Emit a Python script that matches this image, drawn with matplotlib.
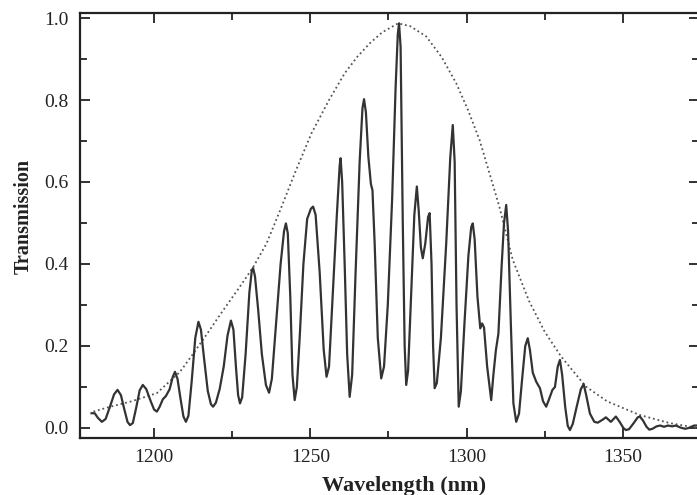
import matplotlib
matplotlib.use("Agg")
import matplotlib.pyplot as plt
from matplotlib.ticker import MultipleLocator

wavelength = [
    1180.0, 1181.0, 1182.0, 1183.3, 1184.5, 1185.8, 1187.2, 1188.3, 1189.4, 1190.5,
    1191.5, 1192.3, 1193.2, 1194.3, 1195.4, 1196.4, 1197.5, 1198.8, 1200.0, 1200.9,
    1201.8, 1202.8, 1203.8, 1205.0, 1206.0, 1206.7, 1207.5, 1208.5, 1209.4, 1210.2,
    1211.0, 1212.0, 1213.2, 1214.2, 1215.0, 1216.0, 1217.2, 1218.2, 1218.9, 1219.8,
    1221.0, 1222.3, 1223.5, 1224.6, 1225.4, 1226.2, 1226.9, 1227.5, 1228.2, 1229.3,
    1230.5, 1231.3, 1231.7, 1232.3, 1233.3, 1234.5, 1235.8, 1236.8, 1237.7, 1238.8,
    1240.5, 1241.6, 1242.2, 1242.8, 1243.6, 1244.3, 1245.0, 1245.7, 1246.6, 1247.8,
    1249.0, 1250.2, 1250.9, 1251.7, 1253.0, 1254.3, 1255.2, 1256.0, 1257.0, 1258.5,
    1259.4, 1259.7, 1260.2, 1261.0, 1261.8, 1262.6, 1263.4, 1264.5, 1265.8, 1266.7,
    1267.2, 1267.8, 1268.6, 1269.4, 1269.9, 1270.6, 1271.6, 1272.7, 1273.6, 1274.8,
    1276.2, 1277.3, 1278.0, 1278.4, 1278.9, 1279.6, 1280.2, 1280.7, 1281.3, 1282.3,
    1283.3, 1284.1, 1284.7, 1285.4, 1286.0, 1286.8, 1287.7, 1288.2, 1288.8, 1289.3,
    1289.8, 1290.5, 1291.8, 1293.5, 1294.8, 1295.6, 1296.2, 1296.8, 1297.5, 1298.2,
    1299.3, 1300.6, 1301.5, 1302.0, 1302.6, 1303.5, 1304.4, 1305.0, 1305.6, 1306.6,
    1307.9, 1308.6, 1309.4, 1310.2, 1311.2, 1312.0, 1312.7, 1313.3, 1314.2, 1315.0,
    1315.9, 1316.8, 1317.8, 1318.8, 1319.6, 1320.3, 1321.2, 1322.3, 1323.5, 1324.5,
    1325.5, 1326.4, 1327.5, 1328.3, 1329.2, 1329.9, 1330.6, 1331.6, 1332.4, 1333.1,
    1334.0, 1335.2, 1336.6, 1337.5, 1338.3, 1339.5, 1340.9, 1342.0, 1343.5, 1344.6,
    1346.2, 1347.8, 1349.0, 1350.2, 1351.0, 1352.0, 1353.5, 1354.8, 1355.5, 1356.5,
    1357.6, 1358.5, 1359.5, 1360.8, 1362.0, 1363.2, 1364.5, 1365.8, 1367.0, 1368.5,
    1370.0, 1371.5, 1372.8, 1374.0,
]
transmission = [
    0.036, 0.036, 0.025, 0.015, 0.022, 0.050, 0.082, 0.093, 0.080, 0.045,
    0.015, 0.007, 0.012, 0.050, 0.092, 0.105, 0.095, 0.068, 0.045, 0.040,
    0.052, 0.070, 0.078, 0.095, 0.125, 0.137, 0.120, 0.070, 0.028, 0.015,
    0.030, 0.110, 0.220, 0.259, 0.240, 0.170, 0.090, 0.058, 0.052, 0.062,
    0.095, 0.150, 0.225, 0.262, 0.240, 0.150, 0.080, 0.060, 0.075, 0.180,
    0.330, 0.385, 0.390, 0.370, 0.290, 0.180, 0.105, 0.086, 0.120, 0.230,
    0.400, 0.480, 0.499, 0.475, 0.320, 0.130, 0.068, 0.100, 0.220, 0.400,
    0.510, 0.535, 0.540, 0.520, 0.380, 0.190, 0.125, 0.150, 0.300, 0.520,
    0.640, 0.658, 0.600, 0.400, 0.180, 0.076, 0.130, 0.380, 0.650, 0.780,
    0.802, 0.770, 0.660, 0.595, 0.580, 0.450, 0.220, 0.121, 0.150, 0.300,
    0.560, 0.830, 0.960, 0.987, 0.930, 0.500, 0.200, 0.105, 0.140, 0.330,
    0.520, 0.589, 0.530, 0.440, 0.414, 0.450, 0.515, 0.524, 0.400, 0.200,
    0.097, 0.110, 0.220, 0.450, 0.660, 0.739, 0.650, 0.300, 0.052, 0.090,
    0.250, 0.420, 0.490, 0.499, 0.460, 0.320, 0.243, 0.255, 0.245, 0.150,
    0.068, 0.130, 0.190, 0.230, 0.390, 0.500, 0.544, 0.480, 0.250, 0.060,
    0.015, 0.035, 0.120, 0.200, 0.219, 0.190, 0.135, 0.113, 0.097, 0.065,
    0.052, 0.070, 0.093, 0.100, 0.150, 0.166, 0.130, 0.050, 0.005, -0.005,
    0.010, 0.050, 0.095, 0.107, 0.080, 0.035, 0.015, 0.013, 0.020, 0.026,
    0.015, 0.028, 0.015, 0.000, -0.005, -0.003, 0.012, 0.026, 0.028, 0.018,
    0.003, -0.004, -0.002, 0.004, 0.006, 0.003, 0.006, 0.004, 0.006, 0.001,
    -0.002, 0.001, 0.006, 0.006,
]

# envelope (dotted line)
env_wavelength = [
    1180.6, 1186.0, 1192.3, 1200.9, 1208.3, 1212.6, 1217.0, 1221.1, 1227.5, 1231.7,
    1236.0, 1240.3, 1245.5, 1250.4, 1256.0, 1261.0, 1265.0, 1269.0, 1273.0, 1278.1,
    1282.0, 1287.1, 1292.0, 1296.7, 1300.5, 1304.2, 1310.5, 1314.8, 1320.0, 1325.0,
    1330.3, 1338.2, 1345.0, 1355.3, 1365.0, 1374.0,
]
env_transmission = [
    0.040, 0.052, 0.064, 0.085, 0.137, 0.182, 0.230, 0.276, 0.345, 0.392,
    0.450, 0.530, 0.630, 0.719, 0.800, 0.865, 0.905, 0.938, 0.965, 0.987,
    0.980, 0.955, 0.905, 0.841, 0.775, 0.702, 0.540, 0.410, 0.310, 0.235,
    0.174, 0.101, 0.065, 0.032, 0.012, 0.000,
]

plt.rcParams["font.family"] = ["Liberation Serif", "DejaVu Serif"]
INK = "#222222"

fig = plt.figure(figsize=(6.97, 4.95), dpi=100)
ax = fig.add_axes([80 / 697, (495 - 438) / 495, 619 / 697, 425 / 495])

ax.plot(wavelength, transmission, color="#333333", lw=1.6,
        solid_joinstyle="round", zorder=3)
ax.plot(env_wavelength, env_transmission, color="#555555", lw=1.3,
        linestyle=(0, (1, 1.6)), zorder=2)

ax.set_xlim(1176.3, 1374.4)
ax.set_ylim(-0.0244, 1.0122)
ax.xaxis.set_major_locator(MultipleLocator(50))
ax.xaxis.set_minor_locator(MultipleLocator(25))
ax.yaxis.set_major_locator(MultipleLocator(0.2))
ax.yaxis.set_minor_locator(MultipleLocator(0.1))
ax.yaxis.set_major_formatter(plt.FuncFormatter(lambda v, p: f"{v:.1f}"))

ax.tick_params(which="both", direction="in", top=True, right=True,
               width=1.3, color=INK, labelsize=14, labelcolor=INK)
ax.tick_params(which="major", length=7, pad=8)
ax.tick_params(which="minor", length=5)

for spine in ax.spines.values():
    spine.set_linewidth(1.6)
    spine.set_color(INK)

fig.text(404 / 697, 1 - 491 / 495, "Wavelength (nm)", fontsize=16,
         fontweight="bold", color=INK, ha="center", va="baseline")
fig.text(23.5 / 697, 1 - 216.5 / 495, "Transmission", fontsize=14.5,
         fontweight="bold", color=INK, rotation=90, ha="center", va="center")

fig.savefig("out.png", dpi=100, facecolor="white")
